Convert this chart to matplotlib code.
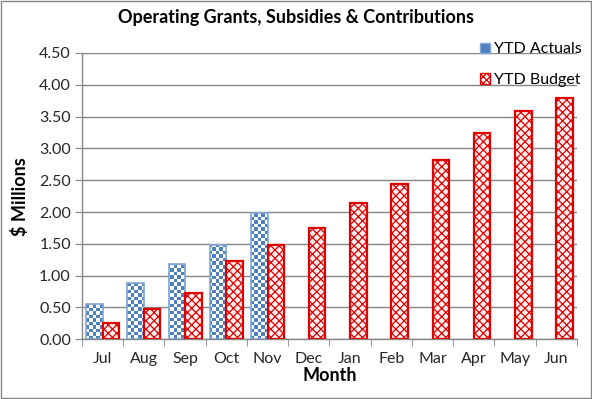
import numpy as np
import matplotlib
matplotlib.use('Agg')
import matplotlib.pyplot as plt
from matplotlib.colors import ListedColormap
from matplotlib.patches import Patch, Rectangle

months = ['Jul', 'Aug', 'Sep', 'Oct', 'Nov', 'Dec', 'Jan', 'Feb', 'Mar', 'Apr', 'May', 'Jun']
ytd_actuals = [0.55, 0.89, 1.18, 1.48, 1.98]
ytd_budget = [0.25, 0.47, 0.72, 1.23, 1.49, 1.75, 2.14, 2.44, 2.82, 3.24, 3.59, 3.80]
yticks = [0.0, 0.5, 1.0, 1.5, 2.0, 2.5, 3.0, 3.5, 4.0, 4.5]

plt.rcParams['font.family'] = ['Lato', 'DejaVu Sans']
plt.rcParams['hatch.linewidth'] = 0.9

blue = '#4F81BD'
red = '#E00000'

fig = plt.figure(figsize=(5.92, 3.99), dpi=100)
ax = fig.add_axes([0.1385, 0.1496, 0.836, 0.7176])

x = np.arange(len(months))
w = 0.4

# actuals: outline only, checkerboard filled in below
act_bars = ax.bar(x[:len(ytd_actuals)] - w / 2, ytd_actuals, w,
                  facecolor='none', edgecolor='#7FA6D8', linewidth=1.2, zorder=3)
bud_bars = ax.bar(x + w / 2, ytd_budget, w, facecolor='#FFF0F0',
                  edgecolor=red, hatch='xxxx', linewidth=1.6, zorder=3)

# checkerboard texture, about 3.5 px per square
ny, nx = 82, 141
board = (np.indices((ny, nx)).sum(axis=0) % 2)
for b in act_bars:
    im = ax.imshow(board, cmap=ListedColormap(['white', blue]),
                   extent=(0, 1, 0, 1), transform=ax.transAxes,
                   interpolation='nearest', aspect='auto', zorder=2)
    im.set_clip_path(b)

ax.set_xlim(-0.5, len(months) - 0.5)
ax.set_ylim(0, 4.5)
ax.set_yticks(yticks)
ax.set_yticklabels(['%.2f' % v for v in yticks], fontsize=11.5)
ax.set_xticks(x)
ax.set_xticklabels(months, fontsize=11.5)
ax.set_xticks(np.arange(len(months) + 1) - 0.5, minor=True)
ax.tick_params(axis='x', which='major', length=0, pad=9)
ax.tick_params(axis='x', which='minor', length=5, color='#868686')
ax.tick_params(axis='y', length=5, color='#868686', pad=3, colors='#262626')
ax.tick_params(axis='x', colors='#262626')

ax.grid(axis='y', color='#868686', linewidth=1)
ax.set_axisbelow(True)
for s in ['top', 'right']:
    ax.spines[s].set_visible(False)
for s in ['left', 'bottom']:
    ax.spines[s].set_color('#868686')
    ax.spines[s].set_linewidth(1)

ax.set_xlabel('Month', fontsize=13, fontweight='bold', labelpad=1)
ax.set_ylabel('$ Millions', fontsize=13, fontweight='bold', labelpad=7)
fig.suptitle('Operating Grants, Subsidies & Contributions', fontsize=13,
             fontweight='bold', y=0.978)

handles = [Patch(facecolor=blue, edgecolor='#7FA6D8'),
           Patch(facecolor='white', edgecolor=red, hatch='xxxxx')]
ax.legend(handles, ['YTD Actuals', 'YTD Budget'], loc='upper right',
          bbox_to_anchor=(588 / 592, 1 - 36 / 399),
          bbox_transform=fig.transFigure, frameon=False, fontsize=11.5,
          handlelength=0.6, handleheight=0.6, handletextpad=0.25,
          labelspacing=1.05, borderaxespad=0)

fig.add_artist(Rectangle((0.002, 0.003), 0.996, 0.994, transform=fig.transFigure,
                         fill=False, edgecolor='#868686', linewidth=1))

fig.savefig('out.png', dpi=100)
